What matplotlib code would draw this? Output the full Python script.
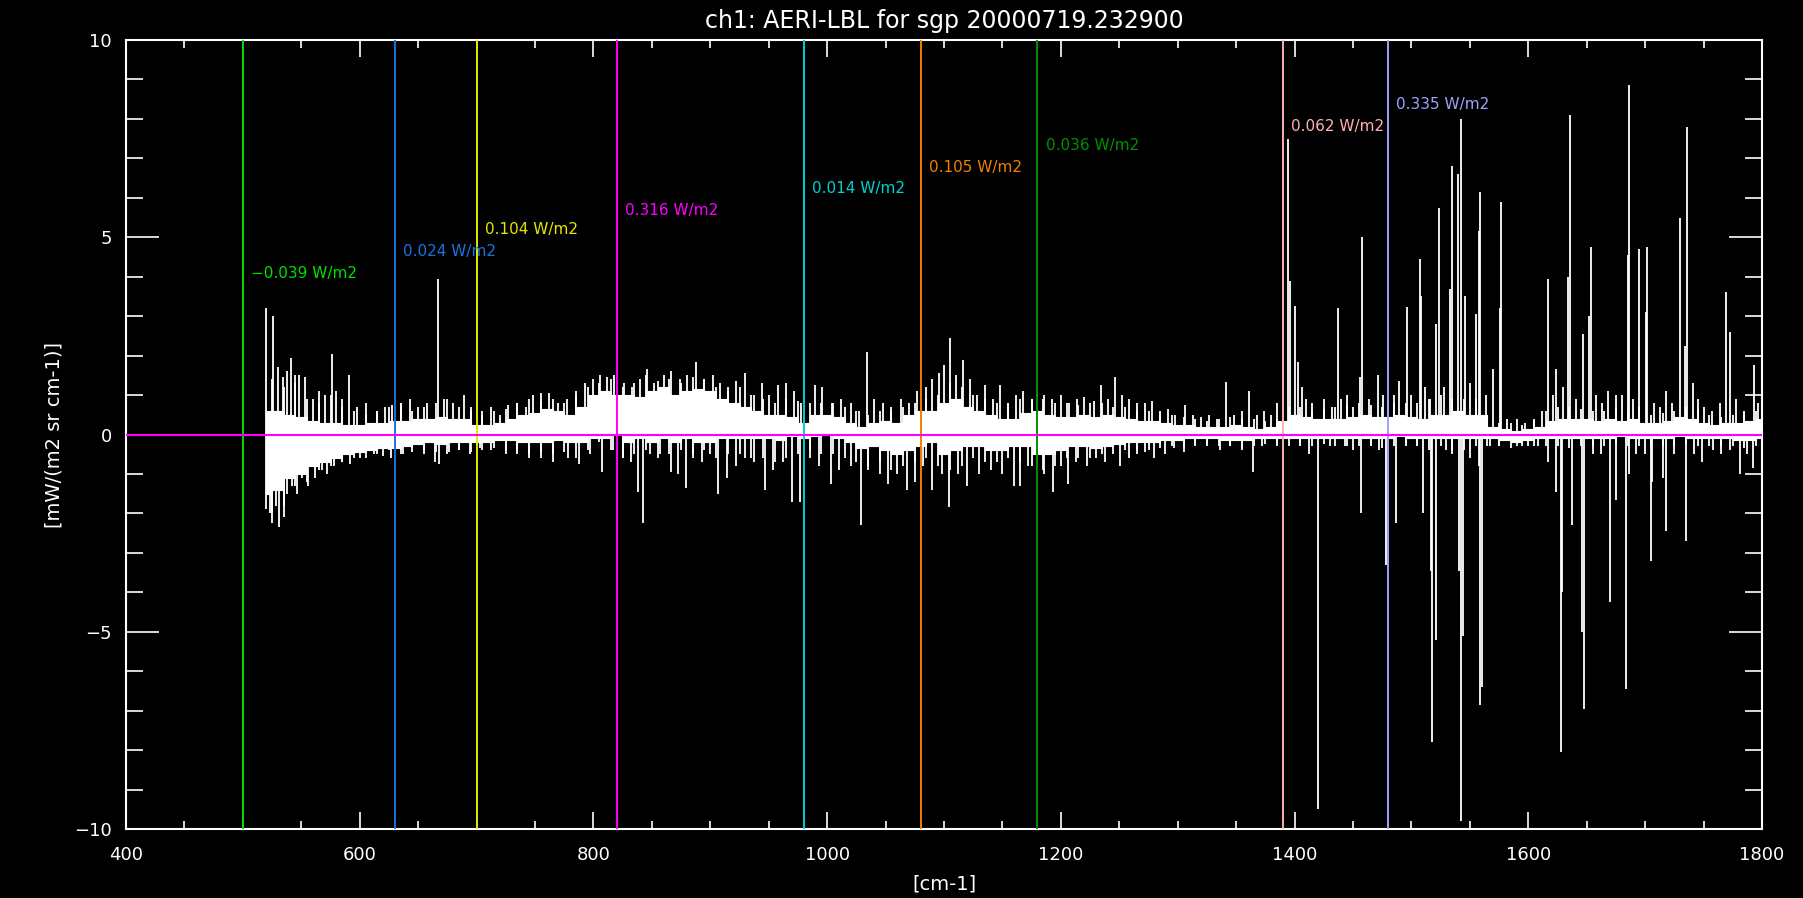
import matplotlib
matplotlib.use("Agg")
import matplotlib.pyplot as plt
import numpy as np

# core of the residual spectrum, read every 10 cm-1 (upper / lower edge)
body_x = list(range(520, 1801, 10))
body_hi = [0.6, 0.6, 0.5, 0.45, 0.35, 0.3, 0.3, 0.25, 0.25, 0.3,
           0.3, 0.35, 0.35, 0.4, 0.4, 0.45, 0.4, 0.4, 0.25, 0.25,
           0.3, 0.4, 0.5, 0.55, 0.65, 0.6, 0.5, 0.7, 1.0, 1.1,
           1.0, 1.0, 0.95, 1.1, 1.2, 1.0, 1.1, 1.15, 1.1, 0.9,
           0.8, 0.7, 0.6, 0.5, 0.5, 0.45, 0.3, 0.5, 0.5, 0.45,
           0.3, 0.2, 0.3, 0.35, 0.3, 0.5, 0.6, 0.6, 0.8, 0.9,
           0.7, 0.6, 0.5, 0.4, 0.4, 0.55, 0.6, 0.5, 0.45, 0.45,
           0.5, 0.45, 0.5, 0.45, 0.4, 0.35, 0.35, 0.3, 0.25, 0.25,
           0.2, 0.2, 0.2, 0.25, 0.2, 0.15, 0.2, 0.35, 0.5, 0.45,
           0.4, 0.4, 0.4, 0.45, 0.5, 0.45, 0.45, 0.5, 0.45, 0.4,
           0.5, 0.5, 0.6, 0.5, 0.5, 0.2, 0.15, 0.1, 0.15, 0.2,
           0.35, 0.4, 0.4, 0.4, 0.35, 0.4, 0.35, 0.4, 0.3, 0.3,
           0.35, 0.45, 0.4, 0.3, 0.25, 0.3, 0.3, 0.35, 0.4]
body_lo = [-1.5, -1.4, -1.1, -1.0, -0.8, -0.7, -0.6, -0.5, -0.45, -0.4,
           -0.35, -0.35, -0.3, -0.25, -0.2, -0.25, -0.2, -0.2, -0.2, -0.2,
           -0.15, -0.15, -0.2, -0.2, -0.2, -0.15, -0.2, -0.2, -0.1, -0.1,
           0.0, -0.2, -0.1, -0.2, -0.1, -0.2, -0.1, -0.2, -0.2, -0.1,
           -0.1, -0.1, -0.1, -0.1, -0.15, -0.05, -0.1, -0.05, 0.0, -0.1,
           -0.2, -0.35, -0.3, -0.4, -0.5, -0.4, -0.3, -0.2, -0.5, -0.4,
           -0.3, -0.3, -0.4, -0.4, -0.3, -0.3, -0.5, -0.5, -0.4, -0.3,
           -0.3, -0.35, -0.3, -0.25, -0.2, -0.2, -0.2, -0.15, -0.15, -0.1,
           -0.1, -0.1, -0.15, -0.15, -0.15, -0.1, -0.1, -0.1, -0.1, -0.1,
           -0.1, -0.1, -0.1, -0.1, -0.1, -0.1, -0.1, -0.05, -0.1, -0.1,
           -0.1, -0.1, -0.1, -0.1, -0.1, -0.1, -0.15, -0.2, -0.15, -0.1,
           -0.1, -0.1, -0.1, -0.1, -0.1, -0.1, -0.05, -0.1, -0.1, -0.1,
           -0.1, -0.05, -0.1, -0.1, -0.1, -0.1, -0.15, -0.15, -0.1]

# ragged fringe of the core, read at the bin middles (525, 535, ... 1795)
fringe_x = list(range(525, 1800, 10))
fringe_hi = [1.4, 1.2, 1.5, 0.9, 0.8, 1.0, 0.7, 0.6,
             0.5, 0.6, 0.7, 0.8, 0.6, 0.7, 0.8, 0.9, 0.7, 0.6,
             0.5, 0.6, 0.65, 0.8, 0.9, 0.85, 0.9, 0.8, 1.0, 1.2,
             1.3, 1.4, 1.2, 1.3, 1.5, 1.35, 1.4, 1.3, 1.45, 1.4,
             1.2, 1.1, 1.2, 1.0, 0.9, 0.8, 0.9, 0.85, 0.8, 0.8,
             0.8, 0.7, 0.6, 0.5, 0.6, 0.6, 0.7, 0.8, 0.9, 1.0,
             1.3, 1.2, 1.0, 0.9, 0.8, 0.8, 0.9, 0.9, 0.9, 0.8,
             0.8, 0.75, 0.8, 0.8, 0.7, 0.7, 0.6, 0.6, 0.55, 0.5,
             0.45, 0.4, 0.35, 0.4, 0.45, 0.4, 0.4, 0.35, 0.4, 0.7,
             0.7, 0.6, 0.65, 0.7, 0.75, 0.8, 0.75, 0.7, 0.8, 0.8,
             0.8, 0.9, 1.0, 0.9, 0.9, 0.9, 0.5, 0.3, 0.3, 0.25,
             0.35, 0.6, 0.7, 0.7, 0.65, 0.6, 0.6, 0.7, 0.6, 0.7,
             0.5, 0.55, 0.6, 0.7, 0.65, 0.5, 0.45, 0.5, 0.55, 0.6]
fringe_lo = [-2.0, -1.8, -1.3, -1.2, -0.9, -0.8, -0.7, -0.6,
             -0.6, -0.5, -0.4, -0.5, -0.35, -0.4, -0.45, -0.5, -0.4, -0.45,
             -0.4, -0.35, -0.5, -0.45, -0.5, -0.6, -0.5, -0.45, -0.6, -0.4,
             -0.2, -0.4, -0.6, -0.5, -0.4, -0.6, -0.5, -0.4, -0.5, -0.4,
             -0.6, -0.5, -0.5, -0.6, -0.6, -0.7, -0.6, -0.5, -0.4, -0.5,
             -0.5, -0.6, -0.7, -0.8, -0.7, -0.9, -0.8, -0.7, -0.6, -0.8,
             -0.9, -0.8, -0.6, -0.7, -0.7, -0.6, -0.7, -0.8, -0.9, -0.8,
             -0.6, -0.6, -0.6, -0.5, -0.5, -0.4, -0.4, -0.4, -0.35, -0.3,
             -0.3, -0.25, -0.25, -0.3, -0.3, -0.35, -0.3, -0.25, -0.25, -0.3,
             -0.3, -0.3, -0.25, -0.3, -0.3, -0.3, -0.3, -0.35, -0.3, -0.3,
             -0.3, -0.4, -0.3, -0.4, -0.4, -0.3, -0.3, -0.3, -0.35, -0.3,
             -0.3, -0.3, -0.3, -0.35, -0.3, -0.3, -0.3, -0.25, -0.3, -0.3,
             -0.3, -0.3, -0.3, -0.25, -0.3, -0.3, -0.3, -0.3, -0.35, -0.3]

# single spectral lines sticking out of the core
up_x = [520, 526, 530, 534, 538, 541, 545, 548, 553, 560, 565, 570, 576, 580, 585,
        591, 598, 605, 615, 622, 628, 635, 643, 650, 658, 667, 672, 680, 689, 695,
        705, 712, 720, 727, 735, 742, 748, 755, 762, 770, 777, 785, 793, 800, 806,
        812, 818, 826, 833, 840, 846, 852, 860, 866, 874, 880, 888, 895, 902, 908,
        915, 922, 930, 937, 944, 950, 958, 965, 972, 978, 990, 996, 1004, 1012, 1020,
        1027, 1034, 1040, 1048, 1055, 1063, 1070, 1077, 1085, 1090, 1096, 1100, 1105, 1110, 1116,
        1122, 1128, 1135, 1142, 1148, 1155, 1162, 1168, 1175, 1180, 1186, 1192, 1200, 1207, 1214,
        1220, 1228, 1234, 1240, 1246, 1252, 1258, 1265, 1272, 1278, 1285, 1292, 1298, 1306, 1313,
        1320, 1327, 1334, 1341, 1348, 1355, 1361, 1368, 1374, 1380, 1385, 1394, 1396, 1400, 1403,
        1406, 1410, 1415, 1425, 1432, 1437, 1440, 1445, 1450, 1456, 1458, 1464, 1471, 1476, 1480,
        1485, 1489, 1496, 1500, 1507, 1508, 1512, 1516, 1521, 1524, 1528, 1533, 1535, 1540, 1542,
        1546, 1550, 1555, 1558, 1559, 1564, 1570, 1576, 1577, 1582, 1590, 1597, 1605, 1612, 1617,
        1621, 1624, 1630, 1634, 1636, 1641, 1647, 1652, 1654, 1658, 1663, 1668, 1675, 1680, 1685,
        1686, 1690, 1695, 1701, 1702, 1708, 1713, 1718, 1723, 1730, 1734, 1736, 1741, 1745, 1750,
        1757, 1764, 1769, 1773, 1778, 1785, 1793, 1797]
up_y = [3.2, 3.0, 1.7, 1.45, 1.6, 1.95, 1.3, 1.5, 1.45, 0.9, 1.1, 1.0, 2.05, 1.1, 0.9,
        1.5, 0.7, 0.8, 0.6, 0.7, 0.75, 0.8, 0.9, 0.7, 0.8, 3.95, 0.9, 0.8, 1.0, 0.7,
        0.6, 0.7, 0.5, 0.75, 0.8, 0.7, 1.0, 1.05, 1.05, 0.8, 0.9, 1.1, 1.3, 1.4, 1.5,
        1.45, 1.5, 1.3, 1.2, 1.4, 1.65, 1.3, 1.5, 1.6, 1.4, 1.5, 1.85, 1.4, 1.5, 1.3,
        1.2, 1.35, 1.55, 1.0, 1.3, 1.0, 1.25, 1.3, 1.1, 0.8, 1.25, 1.2, 0.8, 0.9, 0.8,
        0.6, 2.1, 0.9, 0.8, 0.7, 0.9, 0.8, 1.1, 1.2, 1.4, 1.55, 1.75, 2.45, 1.5, 1.9,
        1.4, 1.0, 1.25, 0.9, 1.25, 0.8, 1.0, 1.1, 0.9, 1.2, 1.0, 0.9, 1.0, 0.8, 0.9,
        0.95, 0.85, 1.25, 0.9, 1.45, 1.0, 0.9, 0.8, 0.8, 0.85, 0.6, 0.65, 0.5, 0.75, 0.5,
        0.45, 0.5, 0.4, 1.33, 0.5, 0.6, 1.1, 0.5, 0.6, 0.5, 0.8, 7.5, 3.9, 3.25, 1.85,
        1.2, 0.9, 0.8, 0.9, 0.7, 3.2, 0.9, 1.0, 0.7, 1.45, 5.0, 0.9, 1.5, 1.0, 0.9,
        1.0, 1.35, 3.22, 1.0, 4.45, 3.5, 1.2, 0.9, 2.8, 5.75, 1.2, 3.7, 6.8, 6.6, 8.0,
        3.5, 1.3, 3.05, 5.15, 6.15, 1.0, 1.65, 3.2, 5.9, 0.4, 0.4, 0.3, 0.4, 0.6, 3.95,
        1.0, 1.65, 1.2, 4.0, 8.1, 0.9, 2.55, 3.0, 4.75, 1.0, 0.8, 1.1, 1.0, 1.0, 4.55,
        8.85, 0.9, 4.7, 3.1, 4.75, 0.8, 0.7, 1.1, 0.8, 5.5, 2.25, 7.8, 1.3, 0.9, 0.7,
        0.6, 0.8, 3.6, 2.6, 0.9, 0.6, 1.75, 0.8]

dn_x = [520, 523, 525, 528, 531, 535, 538, 542, 546, 551, 556, 562, 568, 572, 578,
        585, 592, 600, 612, 620, 627, 637, 645, 655, 664, 668, 676, 685, 694, 703,
        712, 725, 735, 745, 755, 765, 778, 788, 797, 807, 817, 825, 832, 838, 842,
        848, 857, 866, 872, 879, 885, 893, 900, 907, 914, 922, 930, 937, 947, 954,
        962, 970, 977, 985, 993, 1003, 1010, 1020, 1029, 1035, 1045, 1052, 1060, 1068, 1075,
        1082, 1090, 1098, 1104, 1112, 1120, 1130, 1140, 1150, 1160, 1165, 1172, 1180, 1186, 1193,
        1200, 1206, 1213, 1222, 1230, 1238, 1251, 1258, 1265, 1272, 1280, 1289, 1297, 1305, 1315,
        1325, 1336, 1345, 1355, 1364, 1372, 1385, 1405, 1412, 1420, 1430, 1443, 1450, 1457, 1465,
        1472, 1478, 1487, 1495, 1505, 1510, 1517, 1518, 1521, 1530, 1535, 1541, 1542, 1544, 1550,
        1558, 1559, 1560, 1567, 1575, 1590, 1600, 1608, 1617, 1624, 1628, 1629, 1637, 1646, 1648,
        1655, 1662, 1670, 1675, 1684, 1686, 1692, 1700, 1705, 1706, 1715, 1718, 1725, 1735, 1742,
        1749, 1758, 1765, 1773, 1781, 1787, 1792]
dn_y = [-1.9, -2.0, -2.25, -1.8, -2.35, -2.1, -1.5, -1.3, -1.5, -1.1, -1.3, -1.1, -0.9, -1.0, -0.8,
        -0.7, -0.75, -0.6, -0.5, -0.55, -0.6, -0.5, -0.45, -0.5, -0.7, -0.75, -0.45, -0.4, -0.5, -0.35,
        -0.4, -0.4, -0.5, -0.6, -0.45, -0.7, -0.6, -0.75, -0.5, -0.95, -0.4, -0.6, -0.7, -1.45, -2.25,
        -0.5, -0.5, -0.95, -1.0, -1.35, -0.6, -0.7, -0.5, -1.5, -1.1, -0.8, -0.6, -0.7, -1.4, -0.9,
        -0.7, -1.7, -1.7, -0.6, -0.8, -1.25, -0.9, -0.8, -2.3, -0.9, -1.0, -1.25, -1.0, -1.4, -1.2,
        -0.8, -1.4, -1.0, -1.85, -1.0, -1.3, -1.0, -0.9, -1.0, -1.3, -1.3, -0.8, -0.7, -1.0, -1.45,
        -0.8, -1.25, -0.7, -0.8, -0.6, -0.7, -0.8, -0.6, -0.5, -0.45, -0.6, -0.5, -0.35, -0.45, -0.3,
        -0.3, -0.4, -0.3, -0.4, -0.95, -0.3, -0.3, -0.3, -0.5, -9.5, -0.3, -0.3, -0.4, -1.98, -0.3,
        -0.4, -3.3, -2.24, -0.3, -0.3, -1.98, -3.45, -7.8, -5.2, -0.4, -0.5, -3.45, -9.8, -5.1, -0.6,
        -0.8, -6.85, -6.4, -0.3, -0.3, -0.3, -0.3, -0.3, -0.7, -1.45, -8.05, -4.0, -2.3, -5.0, -6.95,
        -0.5, -0.5, -4.25, -1.65, -6.45, -1.0, -0.5, -0.5, -3.2, -1.2, -1.1, -2.45, -0.5, -2.7, -0.5,
        -0.7, -0.4, -0.5, -0.4, -1.0, -0.5, -0.85]

# band boundaries and their flux differences
band_x = [500, 630, 700, 820, 980, 1080, 1180, 1390, 1480]
band_colors = ['#00dd00', '#1874e0', '#e6e600', '#ff00ff', '#00d0d0',
               '#f08000', '#009000', '#ffb0b0', '#a0a0ff']
band_text = ['\u22120.039 W/m2', '0.024 W/m2', '0.104 W/m2', '0.316 W/m2', '0.014 W/m2',
             '0.105 W/m2', '0.036 W/m2', '0.062 W/m2', '0.335 W/m2']
label_y = [4.08, 4.64, 5.19, 5.69, 6.24, 6.76, 7.32, 7.81, 8.37]

fig = plt.figure(figsize=(18.03, 8.98), dpi=100, facecolor='black')
ax = fig.add_axes([126/1803, 69/898, 1636/1803, 789/898], facecolor='black')

ax.fill_between(body_x, body_lo, body_hi, step='mid', color='white', lw=0.8,
                edgecolor='white', zorder=2)
ax.vlines(fringe_x, 0, fringe_hi, color='white', lw=1.3, zorder=2)
ax.vlines(fringe_x, 0, fringe_lo, color='white', lw=1.3, zorder=2)
ax.vlines(up_x, 0, up_y, color='white', lw=1.3, zorder=2)
ax.vlines(dn_x, 0, dn_y, color='white', lw=1.3, zorder=2)

for bx, c, t, ly in zip(band_x, band_colors, band_text, label_y):
    ax.axvline(bx, color=c, lw=1.4, zorder=3)
    ax.text(bx + 7, ly, t, color=c, fontsize=11, va='center', ha='left', zorder=4)

ax.axhline(0, color='#ff00ff', lw=1.5, zorder=3)

ax.set_xlim(400, 1800)
ax.set_ylim(-10, 10)
ax.set_xticks(range(400, 1801, 200))
ax.set_xticks(range(400, 1801, 50), minor=True)
ax.set_yticks([-10, -5, 0, 5, 10])
ax.set_yticks(range(-10, 11), minor=True)
ax.tick_params(axis='x', which='major', direction='in', length=12, width=1.2,
               top=True, bottom=True, colors='white', labelsize=13, pad=12)
ax.tick_params(axis='x', which='minor', direction='in', length=6, width=1.2,
               top=True, bottom=True, colors='white')
ax.tick_params(axis='y', which='major', direction='in', length=24, width=1.2,
               left=True, right=True, colors='white', labelsize=13, pad=10)
ax.tick_params(axis='y', which='minor', direction='in', length=12, width=1.2,
               left=True, right=True, colors='white')
for s in ax.spines.values():
    s.set_color('white')
    s.set_linewidth(1.5)

fig.text(0.5236, 1 - 21/898, 'ch1: AERI-LBL for sgp 20000719.232900', color='white',
         fontsize=17, ha='center', va='center')
fig.text(0.5236, 1 - 884/898, '[cm-1]', color='white', fontsize=14, ha='center', va='center')
fig.text(54/1803, 0.5153, '[mW/(m2 sr cm-1)]', color='white', fontsize=14,
         ha='center', va='center', rotation=90)

fig.savefig('out.png', dpi=100, facecolor='black')
